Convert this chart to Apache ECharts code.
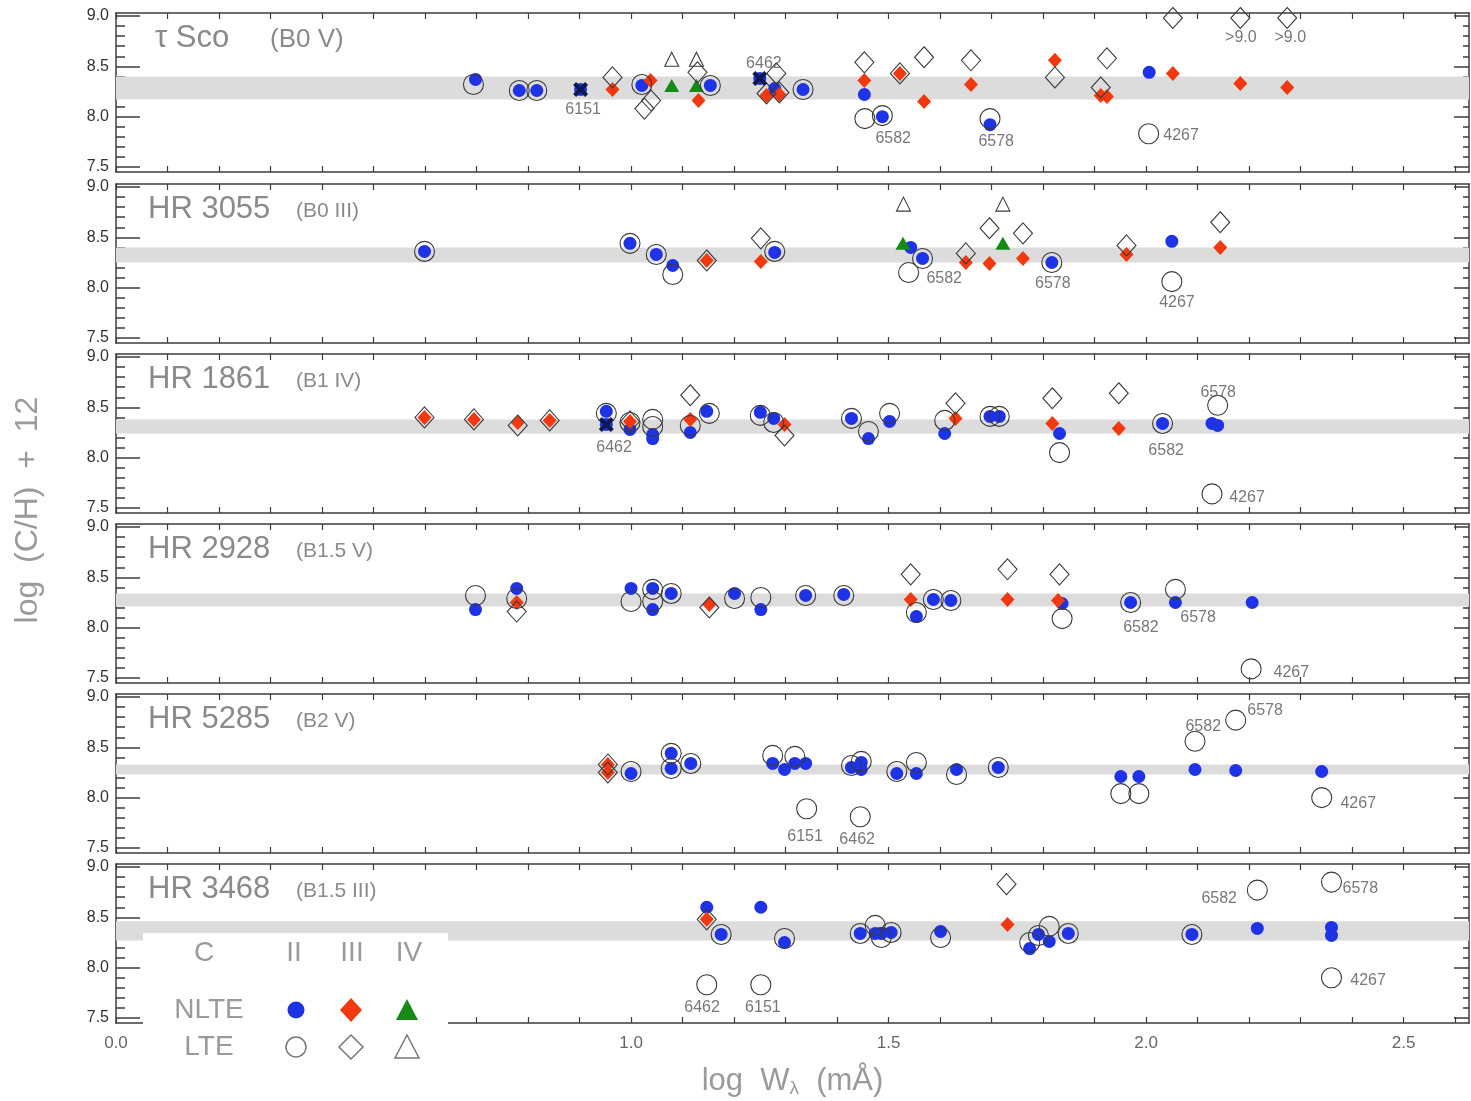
<!DOCTYPE html>
<html>
<head>
<meta charset="utf-8">
<script src="https://cdn.jsdelivr.net/npm/echarts@6/dist/echarts.min.js"></script>
<style>
html,body{margin:0;padding:0;background:#fff;}
#chart{width:1471px;height:1101px;}
</style>
</head>
<body>
<div id="chart"></div>
<script>
// ---- stars shown, one panel each (top to bottom) ----
const starNames = ['\u03c4 Sco', 'HR 3055', 'HR 1861', 'HR 2928', 'HR 5285', 'HR 3468'];
const spectralTypes = ['(B0 V)', '(B0 III)', '(B1 IV)', '(B1.5 V)', '(B2 V)', '(B1.5 III)'];

// mean carbon abundance band (low, high) per star
const bandLow  = [8.17, 8.25, 8.24, 8.21, 8.23, 8.27];
const bandHigh = [8.40, 8.40, 8.38, 8.34, 8.33, 8.46];

// C II lines, NLTE  [log W, log(C/H)+12]
const nlteII = [
  [[0.698,8.37],[0.783,8.26],[0.817,8.26],[0.902,8.27],[1.021,8.31],[1.154,8.31],[1.250,8.38],[1.279,8.28],[1.334,8.27],[1.453,8.22],[1.488,8.00],[1.697,7.92],[2.006,8.44]],
  [[0.599,8.36],[0.998,8.44],[1.049,8.33],[1.081,8.22],[1.279,8.35],[1.543,8.40],[1.566,8.29],[1.817,8.25],[2.050,8.46]],
  [[0.952,8.46],[0.952,8.33],[0.998,8.28],[1.042,8.23],[1.042,8.19],[1.115,8.25],[1.147,8.46],[1.251,8.45],[1.277,8.39],[1.428,8.39],[1.461,8.19],[1.502,8.36],[1.609,8.24],[1.697,8.41],[1.715,8.41],[1.832,8.24],[2.032,8.34],[2.128,8.34],[2.139,8.32]],
  [[0.698,8.18],[0.778,8.39],[1.000,8.39],[1.042,8.39],[1.042,8.18],[1.078,8.34],[1.201,8.34],[1.252,8.18],[1.339,8.32],[1.413,8.33],[1.554,8.11],[1.587,8.28],[1.621,8.27],[1.837,8.24],[1.970,8.25],[2.057,8.25],[2.206,8.25]],
  [[1.000,8.24],[1.078,8.44],[1.078,8.29],[1.116,8.34],[1.275,8.34],[1.298,8.28],[1.318,8.34],[1.339,8.34],[1.428,8.30],[1.447,8.35],[1.447,8.28],[1.516,8.24],[1.554,8.24],[1.632,8.28],[1.713,8.30],[1.951,8.21],[1.986,8.21],[2.095,8.28],[2.174,8.27],[2.341,8.26]],
  [[1.147,8.60],[1.175,8.33],[1.252,8.60],[1.298,8.25],[1.445,8.34],[1.474,8.34],[1.486,8.34],[1.505,8.35],[1.601,8.36],[1.774,8.19],[1.791,8.33],[1.812,8.26],[1.849,8.34],[2.089,8.33],[2.216,8.39],[2.360,8.40],[2.360,8.32]]
];

// C II lines, LTE
const lteII = [
  [[0.694,8.32],[0.783,8.26],[0.817,8.26],[1.021,8.32],[1.154,8.31],[1.334,8.27],[1.454,7.98],[1.488,8.01],[1.697,7.98],[2.005,7.83]],
  [[0.599,8.36],[0.998,8.44],[1.049,8.33],[1.081,8.13],[1.279,8.36],[1.566,8.29],[1.539,8.15],[1.817,8.25],[2.050,8.06]],
  [[0.952,8.44],[0.998,8.35],[1.042,8.38],[1.042,8.31],[1.115,8.32],[1.152,8.44],[1.251,8.42],[1.277,8.35],[1.428,8.39],[1.461,8.26],[1.502,8.44],[1.609,8.37],[1.697,8.41],[1.715,8.41],[1.832,8.05],[2.032,8.34],[2.139,8.52],[2.128,7.64]],
  [[0.698,8.32],[0.778,8.29],[1.000,8.26],[1.042,8.38],[1.042,8.26],[1.078,8.34],[1.201,8.29],[1.252,8.30],[1.339,8.32],[1.413,8.32],[1.554,8.15],[1.587,8.28],[1.621,8.27],[1.837,8.09],[1.970,8.25],[2.057,8.38],[2.204,7.59]],
  [[1.000,8.26],[1.078,8.44],[1.078,8.29],[1.116,8.34],[1.275,8.42],[1.318,8.41],[1.341,7.89],[1.428,8.32],[1.447,8.36],[1.445,7.81],[1.516,8.26],[1.554,8.35],[1.632,8.23],[1.713,8.30],[1.951,8.04],[1.986,8.04],[2.095,8.56],[2.174,8.77],[2.341,8.00]],
  [[1.175,8.33],[1.147,7.83],[1.298,8.29],[1.252,7.83],[1.445,8.34],[1.474,8.42],[1.486,8.30],[1.505,8.35],[1.601,8.30],[1.774,8.25],[1.791,8.32],[1.812,8.41],[1.849,8.34],[2.089,8.33],[2.216,8.77],[2.360,8.85],[2.360,7.90]]
];

// C III lines, NLTE
const nlteIII = [
  [[0.964,8.27],[1.038,8.36],[1.131,8.16],[1.263,8.21],[1.288,8.22],[1.453,8.36],[1.522,8.43],[1.569,8.15],[1.660,8.32],[1.823,8.56],[1.912,8.21],[1.924,8.20],[2.052,8.43],[2.183,8.33],[2.274,8.29]],
  [[1.147,8.27],[1.252,8.26],[1.650,8.25],[1.696,8.24],[1.761,8.29],[1.962,8.33],[2.144,8.40]],
  [[0.599,8.40],[0.695,8.38],[0.780,8.35],[0.842,8.37],[0.998,8.36],[1.115,8.38],[1.298,8.33],[1.630,8.39],[1.818,8.34],[1.947,8.29]],
  [[0.778,8.25],[1.152,8.23],[1.543,8.28],[1.731,8.28],[1.829,8.27]],
  [[0.955,8.33],[0.955,8.25]],
  [[1.147,8.48],[1.731,8.43]]
];

// C III lines, LTE
const lteIII = [
  [[0.964,8.39],[1.026,8.08],[1.039,8.16],[1.129,8.44],[1.263,8.23],[1.288,8.24],[1.282,8.43],[1.453,8.54],[1.522,8.43],[1.569,8.59],[1.660,8.56],[1.823,8.39],[1.912,8.29],[1.924,8.58],[2.052,8.98],[2.183,8.98],[2.274,8.98]],
  [[1.147,8.27],[1.252,8.49],[1.650,8.34],[1.696,8.59],[1.761,8.54],[1.962,8.42],[2.144,8.65]],
  [[0.599,8.40],[0.695,8.38],[0.780,8.32],[0.842,8.37],[0.998,8.36],[1.115,8.62],[1.298,8.22],[1.630,8.54],[1.818,8.59],[1.947,8.64]],
  [[0.778,8.16],[1.152,8.20],[1.543,8.53],[1.731,8.58],[1.832,8.53]],
  [[0.955,8.33],[0.955,8.25]],
  [[1.147,8.48],[1.729,8.83]]
];

// C IV lines
const nlteIV = [[[1.079,8.31],[1.127,8.31]], [[1.528,8.44],[1.722,8.44]], [], [], [], []];
const lteIV  = [[[1.079,8.57],[1.127,8.57]], [[1.529,8.83],[1.722,8.83]], [], [], [], []];

// blended lines, marked with a cross
const blended = [[[0.902,8.27],[1.250,8.38]], [], [[0.952,8.33]], [], [], []];

// line identifications (wavelength in A) written next to points
const lineNotes = [
  [[0.907,8.07,'6151'],[1.258,8.53,'6462'],[1.509,7.78,'6582'],[1.709,7.75,'6578'],[2.068,7.81,'4267'],[2.184,8.79,'>9.0'],[2.280,8.79,'>9.0']],
  [[1.608,8.09,'6582'],[1.819,8.04,'6578'],[2.060,7.85,'4267']],
  [[0.967,8.10,'6462'],[2.039,8.07,'6582'],[2.140,8.65,'6578'],[2.196,7.60,'4267']],
  [[1.990,8.00,'6582'],[2.101,8.10,'6578'],[2.282,7.55,'4267']],
  [[1.338,7.61,'6151'],[1.439,7.58,'6462'],[2.111,8.71,'6582'],[2.231,8.87,'6578'],[2.412,7.94,'4267']],
  [[1.138,7.60,'6462'],[1.256,7.60,'6151'],[2.142,8.69,'6582'],[2.416,8.79,'6578'],[2.431,7.87,'4267']]
];

// axis ticks
const xMajorTicks = [0.0, 0.5, 1.0, 1.5, 2.0, 2.5];
const xMinorTicks = [0.0,0.1,0.2,0.3,0.4,0.5,0.6,0.7,0.8,0.9,1.0,1.1,1.2,1.3,1.4,1.5,1.6,1.7,1.8,1.9,2.0,2.1,2.2,2.3,2.4,2.5,2.6];
const yMajorTicks = [7.5, 8.0, 8.5, 9.0];
const yMinorTicks = [7.5,7.6,7.7,7.8,7.9,8.0,8.1,8.2,8.3,8.4,8.5,8.6,8.7,8.8,8.9,9.0];

// ---- layout & styling ----
const X_MIN = 0, X_MAX = 2.627, Y_MIN = 7.45, Y_MAX = 9.03;
const PANEL_TOPS = [13, 184, 354, 524, 694, 864];
const PANEL_H = 159, GRID_LEFT = 116, GRID_RIGHT = 2;
const BLUE = '#1e32e6', RED = '#f2380f', GREEN = '#168a16', OPEN = '#3a3a3a', CROSS = '#0e1a4e';
const FONT = '"Liberation Sans", Arial, sans-serif';
const AXIS_COLOR = '#3c3c3c';

const grids = [], xAxes = [], yAxes = [], series = [], graphics = [];

function yAxisDef(p, pos, ticks, len, showLine, showLabels) {
  return {
    gridIndex: p, type: 'value', position: pos, min: Y_MIN, max: Y_MAX,
    axisLine: { show: showLine, onZero: false, lineStyle: { color: AXIS_COLOR, width: 1.5 } },
    axisTick: { show: true, inside: true, length: len, customValues: ticks, lineStyle: { color: AXIS_COLOR, width: 1.5 } },
    axisLabel: { show: showLabels, customValues: yMajorTicks, formatter: v => v.toFixed(1), color: '#333', fontSize: 16, fontFamily: FONT, margin: 7 },
    splitLine: { show: false }
  };
}

for (let p = 0; p < 6; p++) {
  grids.push({ left: GRID_LEFT, right: GRID_RIGHT, top: PANEL_TOPS[p], height: PANEL_H, containLabel: false, outerBoundsMode: 'none' });
  const last = p === 5;
  xAxes.push({
    gridIndex: p, type: 'value', position: 'bottom', min: X_MIN, max: X_MAX,
    axisLine: { show: true, onZero: false, lineStyle: { color: AXIS_COLOR, width: 1.5 } },
    axisTick: { show: true, inside: true, length: 6, customValues: xMinorTicks, lineStyle: { color: AXIS_COLOR, width: 1.2 } },
    axisLabel: { show: last, customValues: xMajorTicks, formatter: v => v.toFixed(1), color: '#666', fontSize: 17, fontFamily: FONT, margin: 12 },
    splitLine: { show: false },
    name: last ? '{a|log  W}{s|\u03bb}{a|  (m\u00c5)}' : '',
    nameLocation: 'middle', nameGap: 42,
    nameTextStyle: { rich: {
      a: { fontSize: 31, color: '#9a9a9a', fontFamily: FONT },
      s: { fontSize: 19, color: '#9a9a9a', fontFamily: FONT, verticalAlign: 'bottom', padding: [14, 0, 0, 0] }
    } }
  });
  xAxes.push({
    gridIndex: p, type: 'value', position: 'top', min: X_MIN, max: X_MAX,
    axisLine: { show: true, onZero: false, lineStyle: { color: AXIS_COLOR, width: 1.5 } },
    axisTick: { show: true, inside: true, length: 6, customValues: xMinorTicks, lineStyle: { color: AXIS_COLOR, width: 1.2 } },
    axisLabel: { show: false }, splitLine: { show: false }
  });
  yAxes.push(yAxisDef(p, 'left', yMajorTicks, 24, true, true));
  yAxes.push(yAxisDef(p, 'left', yMinorTicks, 9, false, false));
  yAxes.push(yAxisDef(p, 'right', yMajorTicks, 15, true, false));
  yAxes.push(yAxisDef(p, 'right', yMinorTicks, 6, false, false));

  const ax = { xAxisIndex: 2 * p, yAxisIndex: 4 * p };
  const base = Object.assign({ type: 'scatter', silent: true, animation: false }, ax);

  // abundance band
  series.push(Object.assign({}, base, {
    data: [], z: 1,
    markArea: { silent: true, itemStyle: { color: '#dcdcdc' }, data: [[{ yAxis: bandLow[p] }, { yAxis: bandHigh[p] }]] }
  }));
  // filled (NLTE) markers
  series.push(Object.assign({}, base, { name: 'NLTE II', data: nlteII[p], symbol: 'circle', symbolSize: 13, z: 3,
    itemStyle: { color: BLUE, opacity: 1 } }));
  series.push(Object.assign({}, base, { name: 'NLTE III', data: nlteIII[p], symbol: 'diamond', symbolSize: [14, 15], z: 3,
    itemStyle: { color: RED, opacity: 1 } }));
  series.push(Object.assign({}, base, { name: 'NLTE IV', data: nlteIV[p], symbol: 'triangle', symbolSize: [15, 13], z: 3,
    itemStyle: { color: GREEN, opacity: 1 } }));
  // open (LTE) markers
  series.push(Object.assign({}, base, { name: 'LTE II', data: lteII[p], symbol: 'circle', symbolSize: 20, z: 4,
    itemStyle: { color: 'rgba(0,0,0,0)', borderColor: OPEN, borderWidth: 1.1, opacity: 1 } }));
  series.push(Object.assign({}, base, { name: 'LTE III', data: lteIII[p], symbol: 'diamond', symbolSize: [19, 21], z: 4,
    itemStyle: { color: 'rgba(0,0,0,0)', borderColor: OPEN, borderWidth: 1.1, opacity: 1 } }));
  series.push(Object.assign({}, base, { name: 'LTE IV', data: lteIV[p], symbol: 'triangle', symbolSize: [14, 14], z: 4,
    itemStyle: { color: 'rgba(0,0,0,0)', borderColor: OPEN, borderWidth: 1.1, opacity: 1 } }));
  // blended lines
  series.push(Object.assign({}, base, { name: 'blend', data: blended[p],
    symbol: 'path://M0,2L2,0L5,3L8,0L10,2L7,5L10,8L8,10L5,7L2,10L0,8L3,5Z', symbolSize: 15, z: 5,
    itemStyle: { color: CROSS, opacity: 1 } }));
  // line identifications
  series.push(Object.assign({}, base, {
    name: 'notes', z: 6, symbolSize: 1, itemStyle: { color: 'rgba(0,0,0,0)' },
    data: lineNotes[p].map(n => ({ value: [n[0], n[1]], name: n[2] })),
    label: { show: true, position: 'inside', formatter: '{b}', color: '#555', fontSize: 16, fontFamily: FONT }
  }));

  // star name and spectral type
  const top = PANEL_TOPS[p];
  graphics.push({ type: 'text', x: p === 0 ? 155 : 148, y: top + 25, z: 50,
    style: { text: starNames[p], fill: '#8a8a8a', fontSize: 31, fontFamily: FONT, textVerticalAlign: 'middle' } });
  graphics.push({ type: 'text', x: p === 0 ? 270 : 296, y: top + 27, z: 50,
    style: { text: spectralTypes[p], fill: '#8a8a8a', fontSize: p === 0 ? 26 : 21, fontFamily: FONT, textVerticalAlign: 'middle' } });
}

// y-axis title
graphics.push({ type: 'text', x: 28, y: 510, rotation: Math.PI / 2, z: 50,
  style: { text: 'log  (C/H)  +  12', fill: '#9a9a9a', fontSize: 32, fontFamily: FONT, textAlign: 'center', textVerticalAlign: 'middle' } });

// symbol key
const LG = '#9a9a9a';
graphics.push({ type: 'rect', z: 100, shape: { x: 143, y: 933, width: 305, height: 129 }, style: { fill: '#ffffff' } });
[['C', 204, 953], ['II', 294, 953], ['III', 352, 953], ['IV', 409, 953], ['NLTE', 209, 1010], ['LTE', 209, 1047]].forEach(t => {
  graphics.push({ type: 'text', x: t[1], y: t[2], z: 101,
    style: { text: t[0], fill: LG, fontSize: 28, fontFamily: FONT, textAlign: 'center', textVerticalAlign: 'middle' } });
});
graphics.push({ type: 'circle', z: 101, shape: { cx: 296, cy: 1010, r: 8.5 }, style: { fill: BLUE } });
graphics.push({ type: 'polygon', z: 101, shape: { points: [[351, 998], [362, 1010], [351, 1022], [340, 1010]] }, style: { fill: RED } });
graphics.push({ type: 'polygon', z: 101, shape: { points: [[407, 999], [418, 1020], [396, 1020]] }, style: { fill: GREEN } });
graphics.push({ type: 'circle', z: 101, shape: { cx: 296, cy: 1047, r: 10 }, style: { fill: 'none', stroke: '#777', lineWidth: 1.5 } });
graphics.push({ type: 'polygon', z: 101, shape: { points: [[351, 1035], [363, 1047], [351, 1059], [339, 1047]] }, style: { fill: 'none', stroke: '#777', lineWidth: 1.5 } });
graphics.push({ type: 'polygon', z: 101, shape: { points: [[407, 1035], [419, 1058], [395, 1058]] }, style: { fill: 'none', stroke: '#777', lineWidth: 1.5 } });

const chart = echarts.init(document.getElementById('chart'), null, { renderer: 'canvas' });
chart.setOption({
  animation: false,
  backgroundColor: '#ffffff',
  grid: grids,
  xAxis: xAxes,
  yAxis: yAxes,
  series: series,
  graphic: graphics
});
</script>
</body>
</html>
